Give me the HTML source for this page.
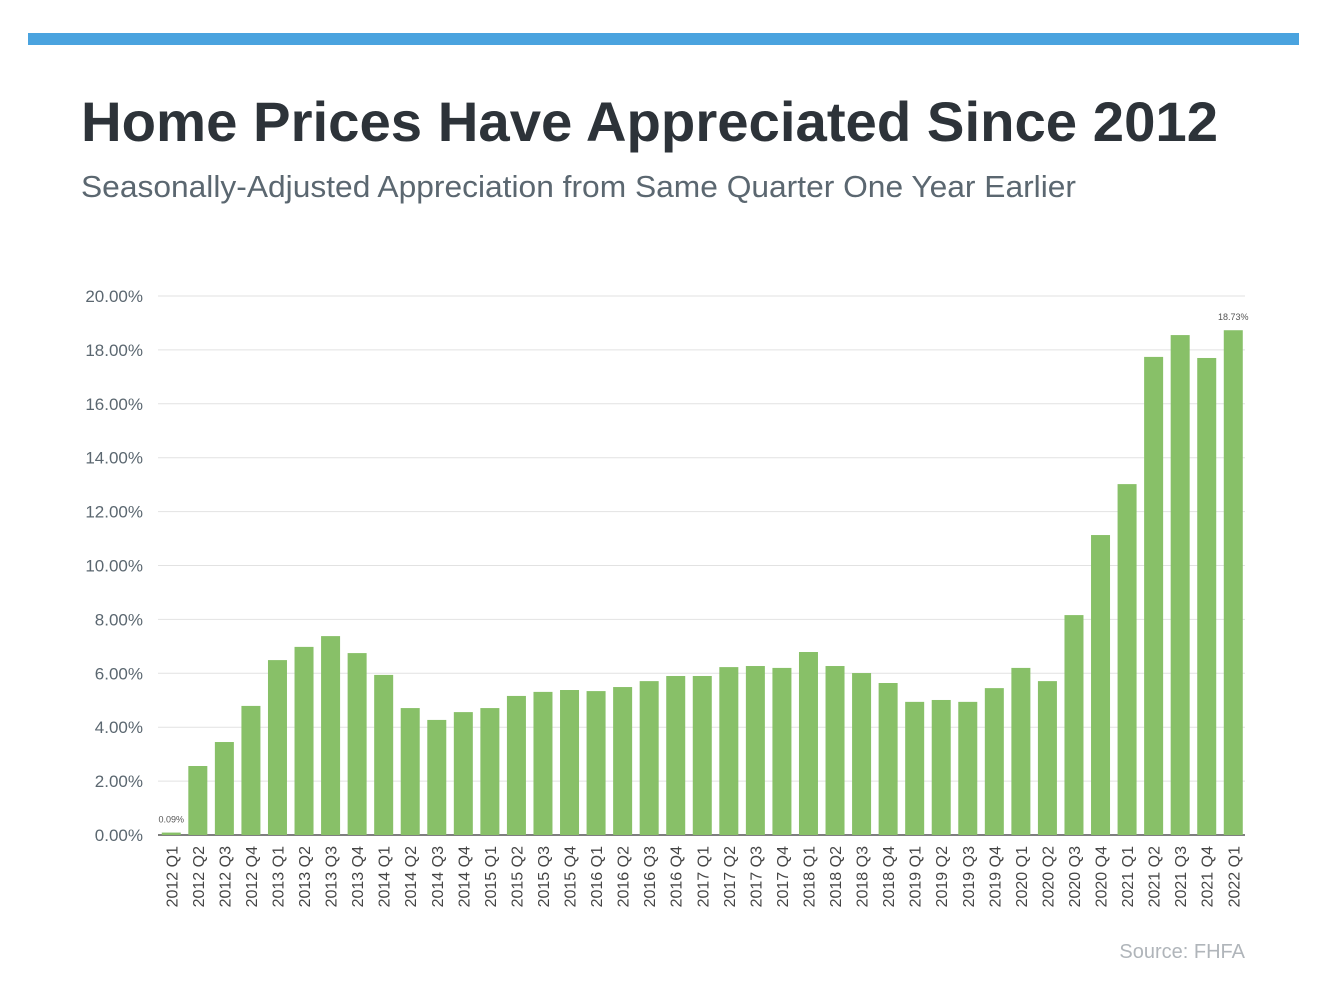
<!DOCTYPE html>
<html><head><meta charset="utf-8">
<style>
body{margin:0;background:#fff;width:1324px;height:990px;overflow:hidden;font-family:"Liberation Sans",sans-serif;}
</style></head>
<body>
<svg id="chart" width="1324" height="990">
<rect x="28" y="33" width="1271" height="12" fill="#4aa3df"/>
<text x="81" y="141" font-size="56" font-weight="bold" fill="#2d3339" textLength="1137" lengthAdjust="spacingAndGlyphs">Home Prices Have Appreciated Since 2012</text>
<text x="81" y="197" font-size="31" fill="#5b6770" textLength="995" lengthAdjust="spacingAndGlyphs">Seasonally-Adjusted Appreciation from Same Quarter One Year Earlier</text>
<text x="1245" y="958" font-size="20" fill="#b0b5ba" text-anchor="end">Source: FHFA</text>
<g id="grid"></g><g id="bars"></g><g id="xlabels"></g>
</svg>
<script>
const categories=["2012 Q1","2012 Q2","2012 Q3","2012 Q4","2013 Q1","2013 Q2","2013 Q3","2013 Q4","2014 Q1","2014 Q2","2014 Q3","2014 Q4","2015 Q1","2015 Q2","2015 Q3","2015 Q4","2016 Q1","2016 Q2","2016 Q3","2016 Q4","2017 Q1","2017 Q2","2017 Q3","2017 Q4","2018 Q1","2018 Q2","2018 Q3","2018 Q4","2019 Q1","2019 Q2","2019 Q3","2019 Q4","2020 Q1","2020 Q2","2020 Q3","2020 Q4","2021 Q1","2021 Q2","2021 Q3","2021 Q4","2022 Q1"];
const values=[0.09,2.56,3.45,4.79,6.49,6.98,7.38,6.75,5.94,4.71,4.27,4.56,4.71,5.16,5.31,5.38,5.34,5.49,5.71,5.9,5.9,6.23,6.27,6.2,6.79,6.27,6.01,5.64,4.94,5.01,4.94,5.45,6.2,5.71,8.16,11.13,13.02,17.74,18.55,17.7,18.73];
const yTicks=[0,2,4,6,8,10,12,14,16,18,20];
const labeled=[0,40];
const NS="http://www.w3.org/2000/svg";
const y0=835,pxPer=26.95,x0=158,step=26.55,bw=19;
const yS=v=>y0-v*pxPer;
const xS=i=>x0+step*(i+0.5);
function mk(tag,attrs,parent,txt){const e=document.createElementNS(NS,tag);for(const k in attrs)e.setAttribute(k,attrs[k]);if(txt!==undefined)e.textContent=txt;document.getElementById(parent).appendChild(e);return e;}
yTicks.forEach(t=>{
  const l=mk('line',{x1:158,x2:1245,y1:yS(t),y2:yS(t),stroke:t===0?'#333':'#e2e2e2','stroke-width':t===0?1.2:1},'grid');
  
  
  const tx=mk('text',{x:143,y:yS(t)+6,'font-size':17,fill:'#5b6770','text-anchor':'end'},'grid',t.toFixed(2)+'%');
  
  
});
values.forEach((v,i)=>{
  const r=mk('rect',{x:xS(i)-bw/2,y:yS(v),width:bw,height:v*pxPer,fill:'#88c068'},'bars');
  
  
  const c=xS(i);
  const t=mk('text',{transform:`translate(${c+6},${y0+11}) rotate(-90)`,'font-size':16,fill:'#444','text-anchor':'end'},'xlabels',categories[i]);
  
  
  if(labeled.includes(i)){
    const d=mk('text',{x:c,y:yS(v)-10,'font-size':9,fill:'#555','text-anchor':'middle'},'bars',v.toFixed(2)+'%');
    
    
  }
});
</script>
</body></html>
